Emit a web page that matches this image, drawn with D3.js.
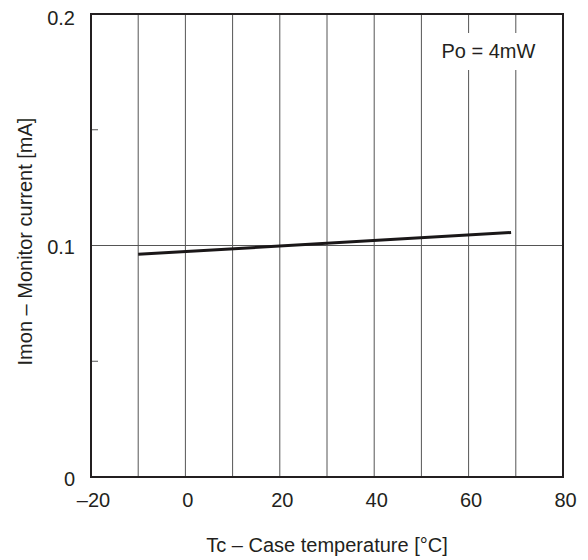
<!DOCTYPE html>
<html>
<head>
<meta charset="utf-8">
<script src="https://cdn.jsdelivr.net/npm/d3@7"></script>
<style>
  body { margin: 0; background: #fff; }
  text { font-family: "Liberation Sans", Arial, sans-serif; fill: #231f20; }
</style>
</head>
<body>
<div id="chart_svg"></div>
<script>
// data
const tempC = [-10, 69]
const imon = [0.0962, 0.1056]
const xTicks = [-20, 0, 20, 40, 60, 80]
const yTicks = [0, 0.1, 0.2]
const yMinorTicks = [0.05, 0.15]
const xGrid = [-10, 0, 10, 20, 30, 40, 50, 60, 70]
const yGrid = [0.1]
const noteText = "Po = 4mW"

const totalWidth = 588
const totalHeight = 560
const fontSize = "20px"
var margin = {top: 14, right: 25, bottom: 83, left: 91},
    width = totalWidth - margin.left - margin.right,
    height = totalHeight - margin.top - margin.bottom;

var svg = d3.select("#chart_svg")
  .append("svg")
  .attr("width", totalWidth)
  .attr("height", totalHeight)

var g = svg.append("g")
  .attr("transform", "translate(" + margin.left + "," + margin.top + ")");

var x = d3.scaleLinear().domain([-20, 80]).range([0, width])
var y = d3.scaleLinear().domain([0, 0.2]).range([height, 0])

// grid
g.selectAll(".vgrid").data(xGrid).enter().append("line")
  .attr("x1", d => x(d)).attr("x2", d => x(d))
  .attr("y1", 0).attr("y2", height)
  .attr("stroke", "#555").attr("stroke-width", 1)
g.selectAll(".hgrid").data(yGrid).enter().append("line")
  .attr("x1", 0).attr("x2", width)
  .attr("y1", d => y(d)).attr("y2", d => y(d))
  .attr("stroke", "#555").attr("stroke-width", 1)

// minor ticks on the left side, pointing in
g.selectAll(".minor").data(yMinorTicks).enter().append("line")
  .attr("x1", 0).attr("x2", 7)
  .attr("y1", d => y(d)).attr("y2", d => y(d))
  .attr("stroke", "#555").attr("stroke-width", 1)

// note with white background over the grid
var note = g.append("g")
var noteRect = note.append("rect").attr("fill", "#fff")
var noteLabel = note.append("text")
  .attr("x", x(64.2)).attr("y", 44)
  .attr("text-anchor", "middle")
  .style("font-size", fontSize)
  .text(noteText)
var bb = noteLabel.node().getBBox()
noteRect.attr("x", bb.x - 5).attr("y", 19)
  .attr("width", bb.width + 10).attr("height", 37)

// the curve
g.append("path")
  .datum(tempC.map((t, i) => ({x: t, y: imon[i]})))
  .attr("fill", "none")
  .attr("stroke", "#1a1718")
  .attr("stroke-width", 3)
  .attr("d", d3.line().x(d => x(d.x)).y(d => y(d.y)))

// frame
g.append("rect")
  .attr("x", 0).attr("y", 0).attr("width", width).attr("height", height)
  .attr("fill", "none").attr("stroke", "#231f20").attr("stroke-width", 2)

// tick labels
var xAxis = g.append("g")
  .attr("transform", "translate(0," + height + ")")
  .call(d3.axisBottom(x).tickValues(xTicks).tickSize(0).tickPadding(16)
    .tickFormat(d => d < 0 ? "\u2013" + Math.abs(d) : d))
xAxis.select(".domain").remove()
xAxis.selectAll("text").style("font-size", fontSize).attr("fill", "#231f20").attr("dx", 2)

var yAxis = g.append("g")
  .call(d3.axisLeft(y).tickValues(yTicks).tickSize(0).tickPadding(16)
    .tickFormat(d => d === 0 ? "0" : d3.format(".1f")(d)))
yAxis.select(".domain").remove()
yAxis.selectAll("text").style("font-size", fontSize).attr("fill", "#231f20").attr("dy", "0.4em")
yAxis.selectAll(".tick").filter(d => d === 0.2).select("text").attr("dy", "0.5em")

// axis titles
svg.append("text")
  .attr("x", margin.left + width / 2).attr("y", 552)
  .attr("text-anchor", "middle")
  .style("font-size", fontSize)
  .text("Tc \u2013 Case temperature [\u00b0C]")

svg.append("text")
  .attr("transform", "translate(32," + (margin.top + y(0.1) - 4) + ") rotate(-90)")
  .attr("text-anchor", "middle")
  .style("font-size", fontSize)
  .text("Imon \u2013 Monitor current [mA]")
</script>
</body>
</html>
